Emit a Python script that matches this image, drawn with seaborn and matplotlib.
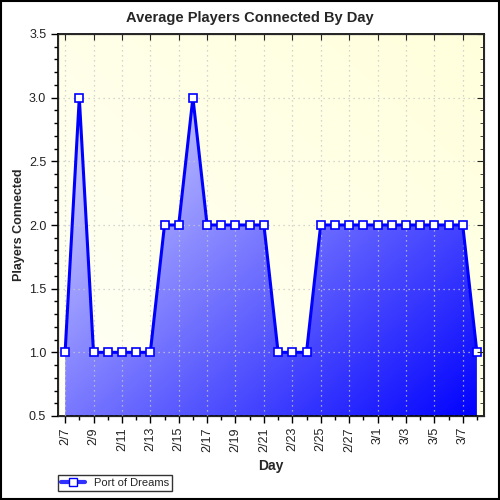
import numpy as np
import pandas as pd
import matplotlib.pyplot as plt
import seaborn as sns
from matplotlib.colors import LinearSegmentedColormap
from matplotlib.lines import Line2D
from matplotlib.patches import Rectangle

days = ["2/7", "2/8", "2/9", "2/10", "2/11", "2/12", "2/13", "2/14", "2/15", "2/16",
        "2/17", "2/18", "2/19", "2/20", "2/21", "2/22", "2/23", "2/24", "2/25", "2/26",
        "2/27", "2/28", "3/1", "3/2", "3/3", "3/4", "3/5", "3/6", "3/7", "3/8"]
players = [1, 3, 1, 1, 1, 1, 1, 2, 2, 3,
           2, 2, 2, 2, 2, 1, 1, 1, 2, 2,
           2, 2, 2, 2, 2, 2, 2, 2, 2, 1]
series_name = "Port of Dreams"

df = pd.DataFrame({"idx": range(len(days)), "day": days, "players": players})

sns.set_style("white")
plt.rcParams["font.family"] = ["Liberation Sans", "DejaVu Sans"]

fig = plt.figure(figsize=(5, 5), dpi=100)
ax = fig.add_axes([58 / 500, 1 - 416 / 500, 426 / 500, 382 / 500])

ax.set_xlim(-0.5, len(days) - 0.5)
ax.set_ylim(0.5, 3.5)

# background gradient (light yellow)
gx, gy = np.meshgrid(np.linspace(0, 1, 200), np.linspace(0, 1, 200))
t_bg = (gx + gy) / 2
bg_cmap = LinearSegmentedColormap.from_list("bg", ["#fffff6", "#ffffdc"])
ax.imshow(t_bg, cmap=bg_cmap, extent=[0, 1, 0, 1], origin="lower",
          transform=ax.transAxes, aspect="auto", zorder=0)

# grid
ax.set_xticks(range(0, len(days), 2))
ax.set_xticklabels(days[::2], rotation=90)
ax.set_xticks(range(len(days)), minor=True)
ax.set_yticks(np.arange(0.5, 3.51, 0.5))
ax.set_yticks(np.arange(0.5, 3.51, 0.1), minor=True)
ax.yaxis.set_major_formatter(plt.FuncFormatter(lambda v, p: f"{v:.1f}"))
ax.grid(True, which="major", color="#c8c8c8", linestyle=(0, (1, 3)), linewidth=0.9)
ax.set_axisbelow(False)
for gl in ax.get_xgridlines() + ax.get_ygridlines():
    gl.set_zorder(1)

# gradient fill under the line
poly = ax.fill_between(df["idx"], df["players"], 0.5, color="none", zorder=2)
fill_cmap = LinearSegmentedColormap.from_list("fill", ["#f4f4ff", "#0000ff"])
t_fill = (gx + (1 - gy)) / 2
im = ax.imshow(t_fill, cmap=fill_cmap, extent=[0, 1, 0, 1], origin="lower",
               transform=ax.transAxes, aspect="auto", zorder=2)
im.set_clip_path(poly.get_paths()[0], transform=ax.transData)

sns.lineplot(data=df, x="idx", y="players", ax=ax, color="#0000ff", linewidth=2.2,
             marker="s", markersize=5.5, markerfacecolor="white",
             markeredgecolor="#0000ff", markeredgewidth=1.2, zorder=3, legend=False)

ax.set_xlim(-0.5, len(days) - 0.5)
ax.set_ylim(0.5, 3.5)

for s in ax.spines.values():
    s.set_color("black")
    s.set_linewidth(1.2)
    s.set_visible(True)

ax.tick_params(axis="both", which="major", direction="out", length=5, width=1,
               color="black", labelsize=9, labelcolor="#222222")
ax.tick_params(axis="both", which="minor", direction="out", length=3, width=1, color="black")
ax.xaxis.set_tick_params(which="major", pad=3)

# inward ticks on top and right
ax2 = ax.twinx()
ax2.set_ylim(0.5, 3.5)
ax2.set_yticks(np.arange(0.5, 3.51, 0.5))
ax2.set_yticks(np.arange(0.5, 3.51, 0.1), minor=True)
ax2.tick_params(axis="y", which="major", direction="in", length=5, labelright=False)
ax2.tick_params(axis="y", which="minor", direction="in", length=3)
ax2.set_yticklabels([])
ax2.grid(False)
ax2.spines["right"].set_linewidth(1.2)
ax.tick_params(axis="y", which="both", right=False)
ax3 = ax.twiny()
ax3.set_xlim(-0.5, len(days) - 0.5)
ax3.set_xticks(range(0, len(days), 2))
ax3.set_xticks(range(len(days)), minor=True)
ax3.tick_params(axis="x", which="major", direction="in", length=4, labeltop=False)
ax3.tick_params(axis="x", which="minor", direction="in", length=0)
ax3.grid(False)
ax.tick_params(axis="x", which="both", top=False)

ax.set_xlabel("Day", fontsize=10, fontweight="bold", labelpad=5)
ax.set_ylabel("Players Connected", fontsize=9, fontweight="bold")
ax.yaxis.set_label_coords((25 - 58) / 426, 0.5)
fig.text(0.5, 1 - 18 / 500, "Average Players Connected By Day", ha="center",
         va="center", fontsize=10.5, fontweight="bold")

handle = Line2D([], [], color="#3030ff", linewidth=3, marker="s", markersize=6,
                markerfacecolor="white", markeredgecolor="#0000ff")
leg = fig.legend([handle], [series_name], loc="lower left",
                 bbox_to_anchor=(58 / 500, 1 - 491 / 500), fontsize=8,
                 frameon=True, fancybox=False, borderpad=0.25, handlelength=2.2,
                 borderaxespad=0)
leg.get_frame().set_edgecolor("black")
leg.get_frame().set_linewidth(1)

fig.patches.append(Rectangle((0.002, 0.002), 0.996, 0.996, transform=fig.transFigure,
                             fill=False, edgecolor="black", linewidth=1.5))

fig.savefig("out.png", dpi=100)
